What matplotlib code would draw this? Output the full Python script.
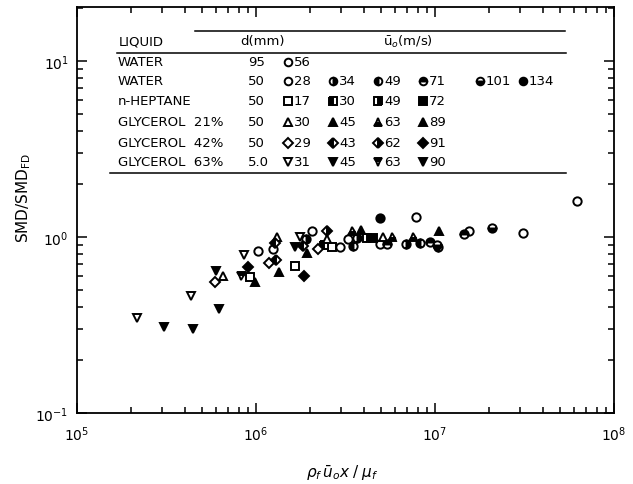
import matplotlib
matplotlib.use("Agg")
import matplotlib.pyplot as plt
from matplotlib.ticker import LogLocator, NullFormatter, FixedLocator

plt.rcParams['font.family'] = ['DejaVu Sans']
plt.rcParams['mathtext.fontset'] = 'dejavusans'

# ---------------- data ----------------
# WATER d=95 mm
w95_56_x = [7.8e6, 3.1e7, 6.2e7]
w95_56_y = [1.30, 1.06, 1.61]
# WATER d=50 mm
w50_28_x = [1.02e6, 1.25e6, 2.05e6, 2.95e6, 3.28e6, 4.93e6, 1.55e7]
w50_28_y = [0.835, 0.855, 1.087, 0.874, 0.975, 0.91, 1.087]
w50_34_x = [1.9e6, 3.66e6, 6.9e6]
w50_34_y = [0.975, 0.99, 0.91]
w50_49_x = [3.5e6, 8.2e6, 1.04e7]
w50_49_y = [0.89, 0.93, 0.88]
w50_71_x = [5.37e6, 9.4e6, 1.46e7]
w50_71_y = [0.91, 0.935, 1.04]
w50_101_x = [1.02e7, 2.07e7]
w50_101_y = [0.90, 1.12]
w50_134_x = [4.9e6]
w50_134_y = [1.29]
# n-HEPTANE d=50 mm
hep17_x = [9.2e5, 1.65e6, 2.65e6]
hep17_y = [0.59, 0.687, 0.874]
hep30_x = [2.4e6]
hep30_y = [0.90]
hep49_x = [4.15e6]
hep49_y = [0.99]
hep72_x = [4.52e6]
hep72_y = [0.99]
# GLYCEROL 21%
g21_30_x = [6.5e5, 1.31e6, 2.5e6, 5.1e6]
g21_30_y = [0.603, 1.0, 0.975, 1.0]
g21_45_x = [9.9e5, 1.34e6, 1.92e6]
g21_45_y = [0.553, 0.63, 0.81]
g21_63_x = [3.43e6, 5.73e6, 7.55e6]
g21_63_y = [1.087, 1.0, 1.0]
g21_89_x = [3.85e6, 1.05e7]
g21_89_y = [1.10, 1.075]
# GLYCEROL 42%
g42_29_x = [5.9e5, 1.18e6, 2.23e6]
g42_29_y = [0.557, 0.71, 0.855]
g42_43_x = [1.28e6, 1.30e6, 1.84e6]
g42_43_y = [0.93, 0.74, 0.89]
g42_62_x = [2.48e6]
g42_62_y = [1.087]
g42_91_x = [9.0e5, 1.86e6]
g42_91_y = [0.677, 0.603]
# GLYCEROL 63%
g63_31_x = [2.15e5, 4.35e5, 8.6e5, 1.75e6]
g63_31_y = [0.345, 0.465, 0.79, 1.0]
g63_45_x = [3.07e5, 4.45e5, 6.0e5]
g63_45_y = [0.307, 0.30, 0.638]
g63_63_x = [8.2e5]
g63_63_y = [0.603]
g63_90_x = [6.2e5, 1.65e6]
g63_90_y = [0.39, 0.88]

liquids = ["WATER", "WATER", "n-HEPTANE", "GLYCEROL  21%", "GLYCEROL  42%", "GLYCEROL  63%"]
diameters = ["95", "50", "50", "50", "50", "5.0"]
velocities = [["56"],
              ["28", "34", "49", "71", "101", "134"],
              ["17", "30", "49", "72"],
              ["30", "45", "63", "89"],
              ["29", "43", "62", "91"],
              ["31", "45", "63", "90"]]

x_ticks = [1e5, 1e6, 1e7, 1e8]
x_tick_labels = [r'$10^5$', r'$10^6$', r'$10^7$', r'$10^8$']
y_ticks = [0.1, 1.0, 10.0]
y_tick_labels = [r'$10^{-1}$', r'$10^{0}$', r'$10^{1}$']

# ---------------- styling ----------------
# (marker, fillstyle) per series, rows of legend
styles = [
    [('o', 'none')],
    [('o', 'none'), ('o', 'right'), ('o', 'left'), ('o', 'top'), ('o', 'bottom'), ('o', 'full')],
    [('s', 'none'), ('s', 'left'), ('s', 'right'), ('s', 'full')],
    [('^', 'none'), ('^', 'full'), ('^', 'bottom'), ('^', 'full')],
    [('D', 'none'), ('D', 'left'), ('D', 'right'), ('D', 'full')],
    [('v', 'none'), ('v', 'full'), ('v', 'top'), ('v', 'full')],
]
series = [
    [(w95_56_x, w95_56_y)],
    [(w50_28_x, w50_28_y), (w50_34_x, w50_34_y), (w50_49_x, w50_49_y),
     (w50_71_x, w50_71_y), (w50_101_x, w50_101_y), (w50_134_x, w50_134_y)],
    [(hep17_x, hep17_y), (hep30_x, hep30_y), (hep49_x, hep49_y), (hep72_x, hep72_y)],
    [(g21_30_x, g21_30_y), (g21_45_x, g21_45_y), (g21_63_x, g21_63_y), (g21_89_x, g21_89_y)],
    [(g42_29_x, g42_29_y), (g42_43_x, g42_43_y), (g42_62_x, g42_62_y), (g42_91_x, g42_91_y)],
    [(g63_31_x, g63_31_y), (g63_45_x, g63_45_y), (g63_63_x, g63_63_y), (g63_90_x, g63_90_y)],
]

W, H = 633, 485
fig = plt.figure(figsize=(W / 100, H / 100), dpi=100)
L, R, T, B = 77, 614, 8, 414
ax = fig.add_axes([L / W, 1 - B / H, (R - L) / W, (B - T) / H])
ax.set_xscale('log')
ax.set_yscale('log')
ax.set_xlim(1e5, 1e8)
ax.set_ylim(0.1, 10 ** 1.307)


def mk_kwargs(m, fs, size=6.0):
    kw = dict(marker=m, ms=size if m != 'D' else size * 0.85, mec='black', mew=1.4)
    if fs == 'none':
        kw.update(mfc='white', fillstyle='full')
    elif fs == 'full':
        kw.update(mfc='black', fillstyle='full')
    else:
        kw.update(mfc='black', fillstyle=fs, markerfacecoloralt='white')
    return kw


for row_st, row_se in zip(styles, series):
    for (m, fs), (xs, ys) in zip(row_st, row_se):
        ax.plot(xs, ys, ls='none', zorder=3, **mk_kwargs(m, fs))

# axes styling
for sp in ax.spines.values():
    sp.set_linewidth(1.3)
ax.xaxis.set_major_locator(FixedLocator(x_ticks))
ax.set_xticklabels(x_tick_labels)
ax.yaxis.set_major_locator(FixedLocator(y_ticks))
ax.set_yticklabels(y_tick_labels)
ax.xaxis.set_minor_locator(LogLocator(base=10, subs=range(2, 10), numticks=20))
ax.yaxis.set_minor_locator(LogLocator(base=10, subs=range(2, 10), numticks=20))
ax.xaxis.set_minor_formatter(NullFormatter())
ax.yaxis.set_minor_formatter(NullFormatter())
ax.tick_params(which='both', direction='in', top=True, right=True, width=1.1)
ax.tick_params(which='major', length=7, labelsize=10)
ax.tick_params(which='minor', length=4)
ax.tick_params(axis='x', which='major', pad=8)
ax.tick_params(axis='y', which='major', pad=6)

fig.text(24 / W, 1 - 198 / H, r'SMD/SMD$_{\mathrm{FD}}$', rotation=90,
         ha='center', va='center', fontsize=11)
fig.text(342 / W, 1 - 473 / H, r'$\rho_f\,\bar{u}_o x\;/\;\mu_f$',
         ha='center', va='center', fontsize=11)


# ---------------- legend table (axes fraction coords) ----------------
def ax_xy(px, py):
    return (px - L) / (R - L), (B - py) / (B - T)


def hline(x0, x1, py):
    a0 = ax_xy(x0, py)
    a1 = ax_xy(x1, py)
    ax.plot([a0[0], a1[0]], [a0[1], a1[1]], transform=ax.transAxes,
            color='black', lw=1.1, clip_on=False)


def txt(px, py, s, **kw):
    xa, ya = ax_xy(px, py)
    ax.text(xa, ya, s, transform=ax.transAxes, va='center', ha='left',
            fontsize=9.5, **kw)


hline(195, 565, 32)
hline(117, 566, 54)
hline(110, 566, 174)
txt(119, 42, 'LIQUID')
txt(240, 42, 'd(mm)')
txt(383, 42, r'$\bar{\mathrm{u}}_o$(m/s)')

row_y = [63, 82, 102, 123, 144, 163]
col_marker_x = [288, 333, 378, 423, 480, 523]
for i, (liq, d, vels) in enumerate(zip(liquids, diameters, velocities)):
    py = row_y[i]
    txt(118, py, liq)
    txt(248, py, d)
    for j, v in enumerate(vels):
        m, fs = styles[i][j]
        xa, ya = ax_xy(col_marker_x[j], py)
        ax.plot([xa], [ya], transform=ax.transAxes, clip_on=False, ls='none',
                **mk_kwargs(m, fs, 5.5))
        txt(col_marker_x[j] + 6, py, v)

fig.savefig('out.png', dpi=100)
